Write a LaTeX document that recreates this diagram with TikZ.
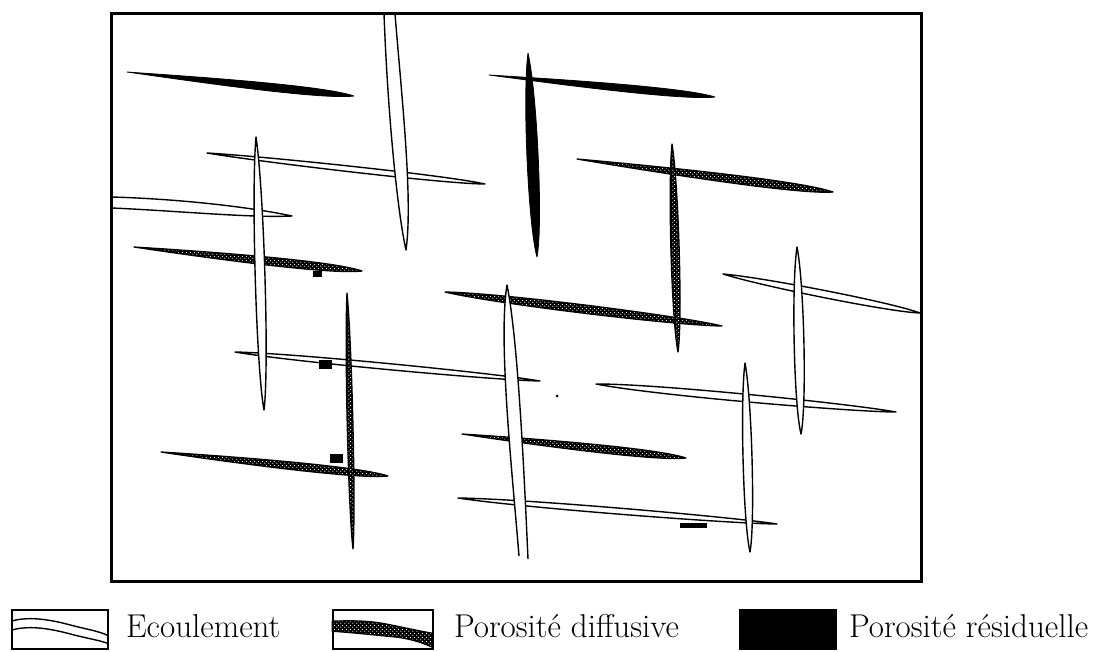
\documentclass[tikz,border=0pt]{standalone}
\usepackage{tikz}
\usetikzlibrary{calc,patterns,positioning}

\pgfdeclarepatternformonly{pointille}{\pgfpointorigin}{\pgfpoint{4pt}{4pt}}{\pgfpoint{4pt}{4pt}}{%
  \pgfpathcircle{\pgfpoint{1pt}{1pt}}{0.75pt}%
  \pgfpathcircle{\pgfpoint{3pt}{3pt}}{0.75pt}%
  \pgfusepath{fill}}

% lens shaped fissure: style, start, end, half width near start, half width near end
\newcommand{\fissure}[5]{%
  \path[#1] (#2) .. controls ($(#2)!0.2!(#3)!#4pt!90:(#3)$) and ($(#2)!0.85!(#3)!#5pt!90:(#3)$) .. (#3)
    .. controls ($(#2)!0.85!(#3)!#5pt!-90:(#3)$) and ($(#2)!0.2!(#3)!#4pt!-90:(#3)$) .. (#2) -- cycle;}

\begin{document}
\begin{tikzpicture}[
    x=1pt, y=-1pt,
    cadre/.style={draw, line width=3pt},
    residu/.style={fill=black, draw=black, line width=0.8pt, line join=round},
    ecoul/.style={draw=black, fill=white, line width=1.4pt, line join=round},
    diffus/.style={draw=black, line width=1.3pt, line join=round, preaction={fill=black}, pattern=pointille, pattern color=white},
    legbox/.style={draw, line width=1.6pt, minimum height=39pt, inner sep=0pt},
    legtext/.style={font=\fontsize{33}{40}\selectfont, inner sep=0pt, anchor=base west, yshift=-7.5pt}
]
    \useasboundingbox (0,0) rectangle (1116,651);

    % horizontal fissures
    \fissure{residu}{127,72}{354,96}{1.5}{8}
    \fissure{residu}{489,75}{715,97}{1.5}{7.5}

    \fissure{ecoul}{207,153}{485,184}{3}{4.5}
    \path[ecoul] (112,197) .. controls (180,199) and (250,207) .. (292,216) .. controls (250,218) and (180,211) .. (112,208);
    \fissure{ecoul}{235,352}{540,381}{4.5}{3.5}
    \fissure{ecoul}{596,384}{896,412}{6}{4}
    \fissure{ecoul}{723,274}{920,313}{4.5}{5}
    \fissure{ecoul}{458,498}{777,524}{4.5}{3.5}

    \fissure{diffus}{134,247}{362,271}{2}{8}
    \fissure{diffus}{445,292}{722,326}{6}{5}
    \fissure{diffus}{577,159}{833,192}{2}{8}
    \fissure{diffus}{161,452}{388,476}{2}{7.5}
    \fissure{diffus}{462,434}{686,458}{2}{7.5}

    % vertical fissures
    \fissure{residu}{528,53}{537,257}{7.5}{7.5}

    \path[ecoul] (384,14) .. controls (388,120) and (398,215) .. (406,250) .. controls (413,200) and (402,100) .. (395,14);
    \fissure{ecoul}{256,137}{264,410}{6.5}{6.5}
    \path[ecoul] (519,556) .. controls (512,470) and (498,340) .. (507,285) .. controls (518,340) and (524,470) .. (528,559);
    \fissure{ecoul}{797,247}{801,434}{6.5}{6.5}
    \fissure{ecoul}{745,363}{750,552}{6}{6}

    \fissure{diffus}{347,293}{353,549}{3.8}{3.8}
    \fissure{diffus}{672,144}{678,352}{5.5}{5.5}

    % residual spots
    \fill (313,271) rectangle (322,277);
    \fill (319,360) rectangle (332,369);
    \fill (330,454) rectangle (343,463);
    \fill (680,523) rectangle (707,528);
    \fill (557,396) circle (1.5);

    \draw[cadre] (111,13) rectangle (921,581);

    % legend
    \node[legbox, minimum width=96pt] (lecoul) at (60,629.5) {};
    \node[legbox, minimum width=100pt] (ldiff) at (383,629.5) {};
    \node[legbox, minimum width=96pt, fill=black] (lresidu) at (788,629.5) {};

    \begin{scope}[shift={(lecoul.north west)}]
        \draw[line width=1.4pt] (0,12) .. controls (20,6) and (45,12) .. (60,16) .. controls (75,20) and (88,22) .. (96,26);
        \draw[line width=1.4pt] (0,21) .. controls (20,15) and (45,21) .. (60,25) .. controls (75,29) and (88,31) .. (96,34);
    \end{scope}
    \begin{scope}[shift={(ldiff.north west)}]
        \path[diffus] (0,12) .. controls (25,11) and (40,12) .. (55,15) .. controls (75,19) and (88,22) .. (100,24)
            -- (100,38) .. controls (85,31) and (70,28) .. (55,27) .. controls (35,25) and (15,23) .. (0,22) -- cycle;
    \end{scope}

    \node[legtext, right=17pt of lecoul.east, anchor=base west] (tecoul) {Ecoulement};
    \node[legtext, right=20pt of ldiff.east, anchor=base west] (tdiff) {Porosité diffusive};
    \node[legtext, right=12pt of lresidu.east, anchor=base west] (tresidu) {Porosité résiduelle};
\end{tikzpicture}
\end{document}
